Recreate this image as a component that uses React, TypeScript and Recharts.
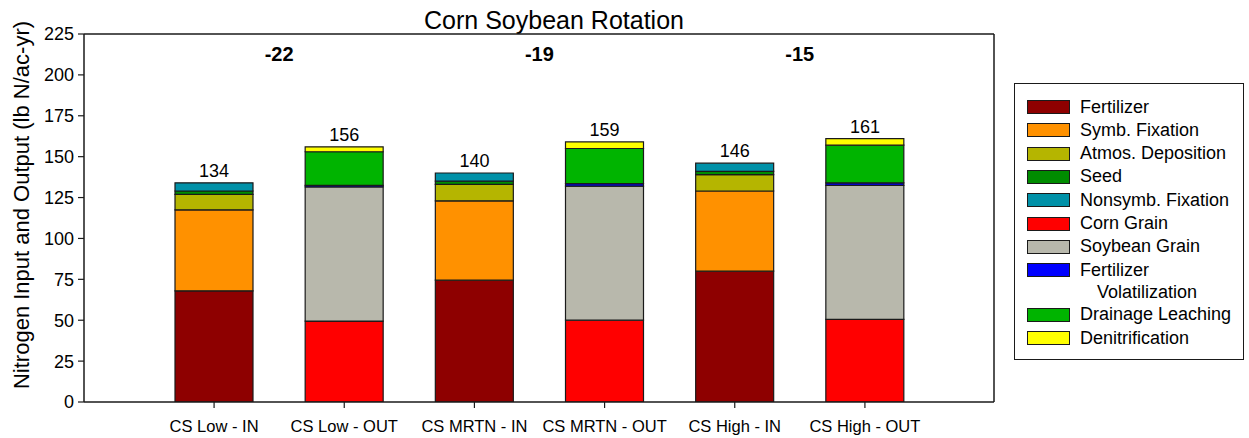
import {
  BarChart,
  Bar,
  XAxis,
  YAxis,
  ReferenceLine,
  ReferenceDot,
} from "recharts";

const categories = [
  "CS Low - IN",
  "CS Low - OUT",
  "CS MRTN - IN",
  "CS MRTN - OUT",
  "CS High - IN",
  "CS High - OUT",
];

// inputs
const fertilizer = [68, 0, 74.5, 0, 80, 0];
const symbFixation = [49.5, 0, 48.5, 0, 49, 0];
const atmosDeposition = [9.5, 0, 10, 0, 10, 0];
const seed = [2, 0, 2, 0, 2, 0];
const nonsymbFixation = [5, 0, 5, 0, 5, 0];
// outputs
const cornGrain = [0, 49.5, 0, 50, 0, 50.5];
const soybeanGrain = [0, 82, 0, 82, 0, 82];
const fertVolatilization = [0, 1, 0, 1.5, 0, 1.5];
const drainageLeaching = [0, 20.5, 0, 21.5, 0, 23];
const denitrification = [0, 3, 0, 4, 0, 4];

const totals = [134, 156, 140, 159, 146, 161];
// net balance shown between each IN / OUT pair
const netCategories = ["CS Low - IN", "CS MRTN - IN", "CS High - IN"];
const netBalance = [-22, -19, -15];
const netLabelLevel = 213;

const yTicks = [0, 25, 50, 75, 100, 125, 150, 175, 200, 225];

const series = [
  { key: "fertilizer", name: "Fertilizer", color: "#8e0000", values: fertilizer },
  { key: "symb", name: "Symb. Fixation", color: "#ff9100", values: symbFixation },
  { key: "atmos", name: "Atmos. Deposition", color: "#b5b500", values: atmosDeposition },
  { key: "seed", name: "Seed", color: "#008c00", values: seed },
  { key: "nonsymb", name: "Nonsymb. Fixation", color: "#0091a8", values: nonsymbFixation },
  { key: "corn", name: "Corn Grain", color: "#ff0000", values: cornGrain },
  { key: "soy", name: "Soybean Grain", color: "#b8b8ac", values: soybeanGrain },
  { key: "fertvol", name: "Fertilizer|Volatilization", color: "#0000ff", values: fertVolatilization },
  { key: "drainage", name: "Drainage Leaching", color: "#00b400", values: drainageLeaching },
  { key: "denit", name: "Denitrification", color: "#ffff00", values: denitrification },
];

const data = categories.map((name, i) => {
  const row: Record<string, string | number> = { name };
  series.forEach((s) => {
    row[s.key] = s.values[i];
  });
  return row;
});

const FONT = '"Liberation Sans", Arial, sans-serif';
const INK = "#1a1a1a";

function ChartLegend() {
  return (
    <div
      style={{
        position: "absolute",
        left: 1014,
        top: 83,
        width: 230,
        height: 277,
        boxSizing: "border-box",
        border: `1.5px solid ${INK}`,
        paddingTop: 11.5,
        paddingLeft: 12,
        fontSize: 18,
        color: "#000",
      }}
    >
      {series.map((s) => {
        const [first, second] = s.name.split("|");
        return (
          <div key={s.key}>
            <div style={{ display: "flex", alignItems: "center", height: 23.3 }}>
              <div
                style={{
                  width: 43,
                  height: 14,
                  boxSizing: "border-box",
                  background: s.color,
                  border: `1px solid ${INK}`,
                  marginRight: 10,
                }}
              />
              <span style={{ whiteSpace: "nowrap", lineHeight: "23.3px" }}>{first}</span>
            </div>
            {second && (
              <div style={{ paddingLeft: 70, lineHeight: "21.4px", height: 21.4 }}>
                {second}
              </div>
            )}
          </div>
        );
      })}
    </div>
  );
}

export default function App() {
  return (
    <div
      style={{
        position: "absolute",
        left: 0,
        top: 0,
        width: 1249,
        height: 438,
        background: "#fff",
        fontFamily: FONT,
      }}
    >
      <div
        style={{
          position: "absolute",
          left: 554,
          top: 8,
          transform: "translateX(-50%)",
          fontSize: 25,
          lineHeight: "25px",
          whiteSpace: "nowrap",
        }}
      >
        Corn Soybean Rotation
      </div>

      <div
        style={{
          position: "absolute",
          left: 22,
          top: 205,
          transform: "translate(-50%, -50%) rotate(-90deg)",
          fontSize: 22,
          lineHeight: "22px",
          whiteSpace: "nowrap",
        }}
      >
        Nitrogen Input and Output (lb N/ac-yr)
      </div>

      <BarChart
        width={1249}
        height={438}
        data={data}
        margin={{ top: 34, right: 255, bottom: 0, left: 0 }}
        style={{ position: "absolute", left: 0, top: 0 }}
      >
        <XAxis
          dataKey="name"
          height={36}
          padding={{ left: 65, right: 64 }}
          tickSize={6}
          tickMargin={12}
          axisLine={{ stroke: INK, strokeWidth: 1.5 }}
          tickLine={{ stroke: INK, strokeWidth: 1.2 }}
          tick={{ fill: "#000", fontSize: 16.5, fontFamily: FONT }}
          interval={0}
        />
        <YAxis
          yAxisId="left"
          width={84}
          domain={[0, 225]}
          ticks={yTicks}
          allowDataOverflow
          tickSize={6}
          tickMargin={4}
          axisLine={{ stroke: INK, strokeWidth: 1.5 }}
          tickLine={{ stroke: INK, strokeWidth: 1.2 }}
          tick={{ fill: "#000", fontSize: 18, fontFamily: FONT }}
        />
        <YAxis
          yAxisId="right"
          orientation="right"
          width={1}
          mirror
          domain={[0, 225]}
          ticks={yTicks}
          tickSize={6}
          tickFormatter={() => ""}
          axisLine={{ stroke: INK, strokeWidth: 1.5 }}
          tickLine={{ stroke: INK, strokeWidth: 1.2 }}
        />
        <ReferenceLine yAxisId="left" y={225} stroke={INK} strokeWidth={1.5} />

        {series.map((s) => (
          <Bar
            key={s.key}
            yAxisId="left"
            dataKey={s.key}
            stackId="n"
            barSize={78}
            fill={s.color}
            stroke={INK}
            strokeWidth={1.2}
            isAnimationActive={false}
          />
        ))}

        {categories.map((c, i) => (
          <ReferenceDot
            key={`t-${c}`}
            yAxisId="left"
            x={c}
            y={totals[i]}
            r={0}
            fill="none"
            stroke="none"
            label={(p: any) => (
              <text
                x={p.viewBox.x}
                y={p.viewBox.y - 6}
                textAnchor="middle"
                fontSize={18}
                fontFamily={FONT}
                fill="#000"
              >
                {totals[i]}
              </text>
            )}
          />
        ))}

        {netCategories.map((c, i) => (
          <ReferenceDot
            key={`n-${c}`}
            yAxisId="left"
            x={c}
            y={netLabelLevel}
            r={0}
            fill="none"
            stroke="none"
            label={(p: any) => (
              <text
                x={p.viewBox.x + 65}
                y={p.viewBox.y}
                textAnchor="middle"
                dominantBaseline="central"
                fontSize={20}
                fontWeight="bold"
                fontFamily={FONT}
                fill="#000"
              >
                {netBalance[i]}
              </text>
            )}
          />
        ))}
      </BarChart>

      <ChartLegend />
    </div>
  );
}
